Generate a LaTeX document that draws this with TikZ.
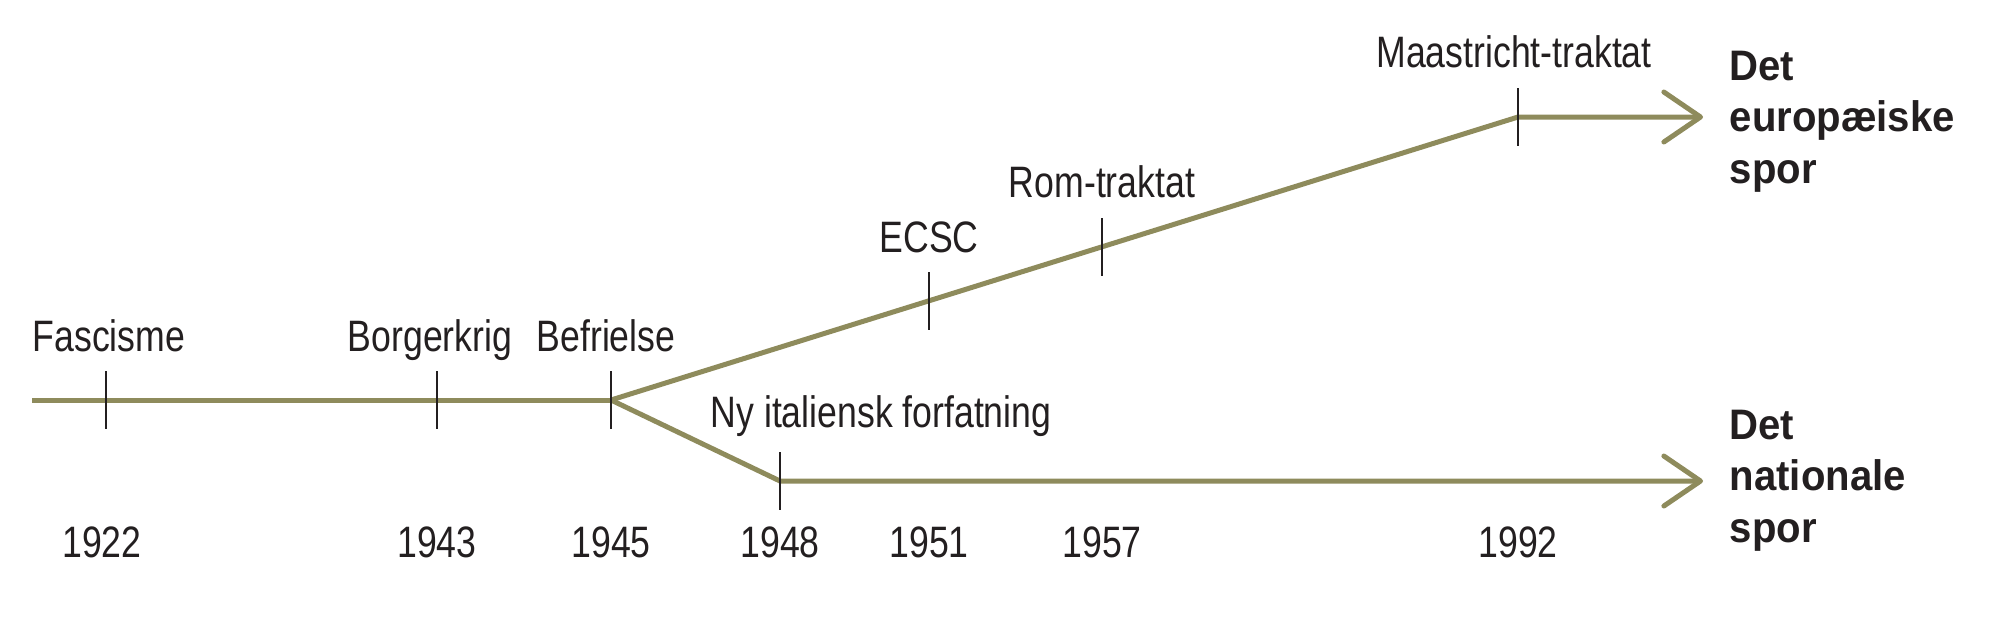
\documentclass[tikz,border=0pt]{standalone}
\usepackage{fontspec}
\setmainfont[FakeStretch=0.81]{Liberation Sans}
\newfontfamily\sporfont[FakeStretch=0.94]{Liberation Sans}
\usetikzlibrary{arrows.meta}

\definecolor{sporolive}{RGB}{142,139,92}
\definecolor{inktext}{RGB}{35,31,32}

\tikzset{
  track/.style={draw=sporolive, line width=1.5pt, line join=round}, % the olive lines
  trackend/.style={track, -{Straight Barb[length=11pt,width=15pt,round]}}, % open arrow at the end
  yeartick/.style={draw=inktext, line width=0.7pt},
  eventlabel/.style={inner sep=0pt, anchor=base, text=inktext, font=\fontsize{13.2}{15}\selectfont},
  yearlabel/.style={eventlabel},
  sporlabel/.style={inner sep=0pt, anchor=base west, align=left, text=inktext,
    font=\sporfont\bfseries\fontsize{12.8}{15.45}\selectfont},
}

\begin{document}
\begin{tikzpicture}[x=0.3pt, y=-0.3pt] % one unit is one pixel, y runs down
    \useasboundingbox (0,0) rectangle (2000,630);

    % points on the time line
    \coordinate (start) at (32,400);
    \coordinate (t22) at (106,400);
    \coordinate (t43) at (437,400);
    \coordinate (t45) at (611,400);
    \coordinate (t48) at (780,481);
    \coordinate (t51) at (929,301);
    \coordinate (t57) at (1102,247);
    \coordinate (t92) at (1518,117);
    \coordinate (euend) at (1703,117);
    \coordinate (naend) at (1703,481);

    \draw[track] (start) -- (t45);
    \draw[trackend] (t45) -- (t92) -- (euend);
    \draw[trackend] (t45) -- (t48) -- (naend);

    \foreach \t in {t22,t43,t45,t48,t51,t57,t92}
        \draw[yeartick] (\t) ++(0,-29) -- ++(0,58);

    % events
    \node[eventlabel, anchor=base west] (fascisme) at (32,351) {Fascisme};
    \node[eventlabel] (borgerkrig) at (430,351) {Borgerkrig};
    \node[eventlabel] (befrielse) at (606,351) {Befrielse};
    \node[eventlabel, anchor=base west] (forfatning) at (710,427) {Ny italiensk forfatning};
    \node[eventlabel] (ecsc) at ([yshift=14.7pt]t51) {ECSC};
    \node[eventlabel] (rom) at ([yshift=15pt]t57) {Rom-traktat};
    \node[eventlabel] (maastricht) at ([xshift=-1.2pt,yshift=15pt]t92) {Maastricht-traktat};

    % years
    \node[yearlabel] (y1922) at (102,557) {1922};
    \node[yearlabel] (y1943) at (t43 |- 0,557) {1943};
    \node[yearlabel] (y1945) at (t45 |- 0,557) {1945};
    \node[yearlabel] (y1948) at (t48 |- 0,557) {1948};
    \node[yearlabel] (y1951) at (t51 |- 0,557) {1951};
    \node[yearlabel] (y1957) at (t57 |- 0,557) {1957};
    \node[yearlabel] (y1992) at (t92 |- 0,557) {1992};

    % the two tracks (base is the last line here)
    \node[sporlabel] (europaeisk) at (1729,183) {Det\\europæiske\\spor};
    \node[sporlabel] (national) at (1729,542) {Det\\nationale\\spor};
\end{tikzpicture}
\end{document}
